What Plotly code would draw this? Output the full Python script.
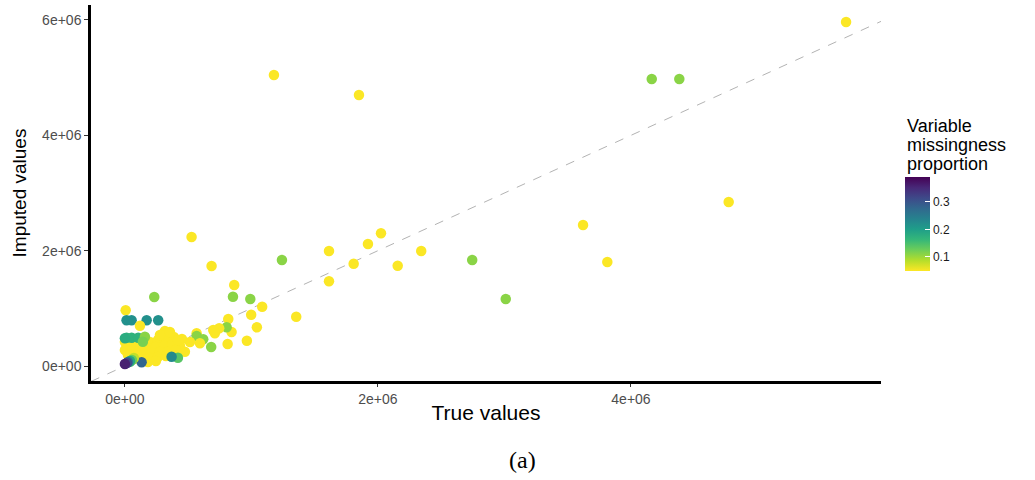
import plotly.graph_objects as go

# ---------------- data (values in millions for true / imputed) ----------------
true_m = [
    # scattered points
    5.700, 1.178, 1.850, 4.164, 4.382, 4.772, 3.621, 3.813, 2.745, 3.010,
    0.527, 0.685, 1.241, 1.613, 1.921, 2.024, 1.808, 2.156, 2.342, 1.613,
    0.864, 0.232, 0.854, 0.991, 1.085, 0.998, 1.354, 1.043, 0.817, 0.843,
    0.804, 0.745, 0.698, 0.711, 0.567, 0.567, 0.619, 0.593, 0.812, 0.964,
    0.682, 0.006, 0.013, 0.053, 0.172, 0.263, 0.119, 0.316, 0.474,
    # dense cluster near the origin
    0.000, 0.024, 0.079, 0.134, 0.198, 0.261, 0.324, 0.387, 0.451, 0.514,
    0.000, 0.055, 0.119, 0.182, 0.245, 0.308, 0.372, 0.435,
    0.024, 0.087, 0.150, 0.213, 0.277, 0.340, 0.403,
    0.071, 0.134, 0.198, 0.261, 0.324, 0.182, 0.245, 0.277, 0.356, 0.419,
    # coloured points inside the cluster
    0.013, 0.053, 0.105, 0.158, 0.000, 0.142, 0.419, 0.369, 0.040, 0.132,
    0.071, 0.055, 0.040, 0.024, 0.016, 0.000,
]
imputed_m = [
    5.965, 5.046, 4.699, 4.977, 4.977, 2.844, 2.445, 1.803, 1.838, 1.162,
    2.237, 1.734, 1.838, 1.994, 2.115, 2.301, 1.774, 1.739, 1.994, 1.469,
    1.405, 1.196, 1.202, 1.162, 1.028, 0.890, 0.855, 0.671, 0.815, 0.590,
    0.671, 0.654, 0.624, 0.567, 0.567, 0.520, 0.463, 0.394, 0.381, 0.439,
    0.329, 0.966, 0.792, 0.792, 0.792, 0.792, 0.699, 0.607, 0.248,
    0.416, 0.364, 0.381, 0.399, 0.416, 0.451, 0.486, 0.503, 0.468, 0.416,
    0.277, 0.277, 0.295, 0.312, 0.329, 0.347, 0.364, 0.347,
    0.191, 0.191, 0.208, 0.225, 0.243, 0.243, 0.277,
    0.121, 0.139, 0.139, 0.156, 0.173, 0.069, 0.087, 0.538, 0.590, 0.451,
    0.491, 0.491, 0.491, 0.508, 0.480, 0.421, 0.144, 0.161, 0.075, 0.064,
    0.139, 0.104, 0.087, 0.069, 0.052, 0.035,
]
miss_prop = [
    0.05, 0.05, 0.05, 0.11, 0.11, 0.05, 0.05, 0.05, 0.11, 0.11,
    0.05, 0.05, 0.11, 0.05, 0.05, 0.05, 0.05, 0.05, 0.05, 0.05,
    0.05, 0.11, 0.11, 0.11, 0.05, 0.05, 0.05, 0.05, 0.05, 0.05,
    0.11, 0.05, 0.05, 0.05, 0.05, 0.11, 0.11, 0.05, 0.05, 0.05,
    0.11, 0.05, 0.22, 0.22, 0.22, 0.22, 0.05, 0.05, 0.05,
    0.05, 0.05, 0.05, 0.05, 0.05, 0.05, 0.05, 0.05, 0.05, 0.05,
    0.05, 0.05, 0.05, 0.05, 0.05, 0.05, 0.05, 0.05,
    0.05, 0.05, 0.05, 0.05, 0.05, 0.05, 0.05,
    0.05, 0.05, 0.05, 0.05, 0.05, 0.05, 0.05, 0.05, 0.05, 0.05,
    0.17, 0.17, 0.17, 0.11, 0.18, 0.12, 0.14, 0.23, 0.15, 0.28,
    0.08, 0.13, 0.19, 0.26, 0.31, 0.36,
]

x_tick_vals = [0, 2e6, 4e6]
x_tick_text = ["0e+00", "2e+06", "4e+06"]
y_tick_vals = [0, 2e6, 4e6, 6e6]
y_tick_text = ["0e+00", "2e+06", "4e+06", "6e+06"]
cbar_ticks = [0.1, 0.2, 0.3]
legend_title_lines = ["Variable", "missingness", "proportion"]
x_range = [-0.268e6, 5.976e6]
y_range = [-0.26e6, 6.26e6]
c_range = [0.049, 0.391]

true_vals = [v * 1e6 for v in true_m]
imputed_vals = [v * 1e6 for v in imputed_m]

fig = go.Figure()

# identity reference line y = x across the x range
fig.add_trace(go.Scatter(
    x=x_range, y=x_range, mode="lines",
    line=dict(color="#b3b3b3", width=1, dash="dash"),
    hoverinfo="skip", showlegend=False,
))

fig.add_trace(go.Scatter(
    x=true_vals, y=imputed_vals, mode="markers",
    marker=dict(
        size=10.5, color=miss_prop, colorscale="Viridis", reversescale=True,
        cmin=c_range[0], cmax=c_range[1], line=dict(width=0),
        colorbar=dict(
            x=1.0304, xanchor="left", xpad=0,
            y=0.418, yanchor="middle", ypad=0,
            len=0.25, lenmode="fraction", thickness=25,
            outlinewidth=0,
            tickvals=cbar_ticks, ticktext=["0.1", "0.2", "0.3"],
            ticks="inside", ticklen=5, tickcolor="white", tickwidth=1,
            tickfont=dict(family="Liberation Sans", size=12, color="#1a1a1a"),
        ),
    ),
    showlegend=False,
))

title_y = [0.678, 0.628, 0.578]
annotations = [
    dict(text=t, x=1.0304, y=yy, xref="paper", yref="paper",
         xanchor="left", yanchor="middle", align="left", showarrow=False,
         font=dict(family="Liberation Sans", size=18, color="black"))
    for t, yy in zip(legend_title_lines, title_y)
]
annotations.append(
    dict(text="(a)", x=0.5456, y=-0.21, xref="paper", yref="paper",
         xanchor="center", yanchor="middle", showarrow=False,
         font=dict(family="Liberation Serif", size=24, color="black"))
)

fig.update_layout(
    width=1035, height=480,
    margin=dict(l=91, r=154, t=5, b=99),
    paper_bgcolor="white", plot_bgcolor="white",
    font=dict(family="Liberation Sans", color="#000000"),
    xaxis=dict(
        range=x_range, showgrid=False, zeroline=False,
        showline=True, linecolor="black", linewidth=2.5,
        tickvals=x_tick_vals, ticktext=x_tick_text,
        ticks="outside", ticklen=3, tickcolor="#333333", tickwidth=1,
        tickfont=dict(family="Liberation Sans", size=14, color="#4d4d4d"),
        title=dict(text="True values", font=dict(family="Liberation Sans", size=21, color="black"), standoff=0),
    ),
    yaxis=dict(
        range=y_range, showgrid=False, zeroline=False,
        showline=True, linecolor="black", linewidth=2.5,
        tickvals=y_tick_vals, ticktext=y_tick_text,
        ticks="outside", ticklen=4, tickcolor="#333333", tickwidth=1,
        tickfont=dict(family="Liberation Sans", size=14, color="#4d4d4d"),
        title=dict(text="Imputed values", font=dict(family="Liberation Sans", size=19, color="black"), standoff=11),
        automargin=False,
    ),
    annotations=annotations,
)

fig.write_html("out.html", config={"displayModeBar": False},
               post_script="document.body.style.margin='0';")
